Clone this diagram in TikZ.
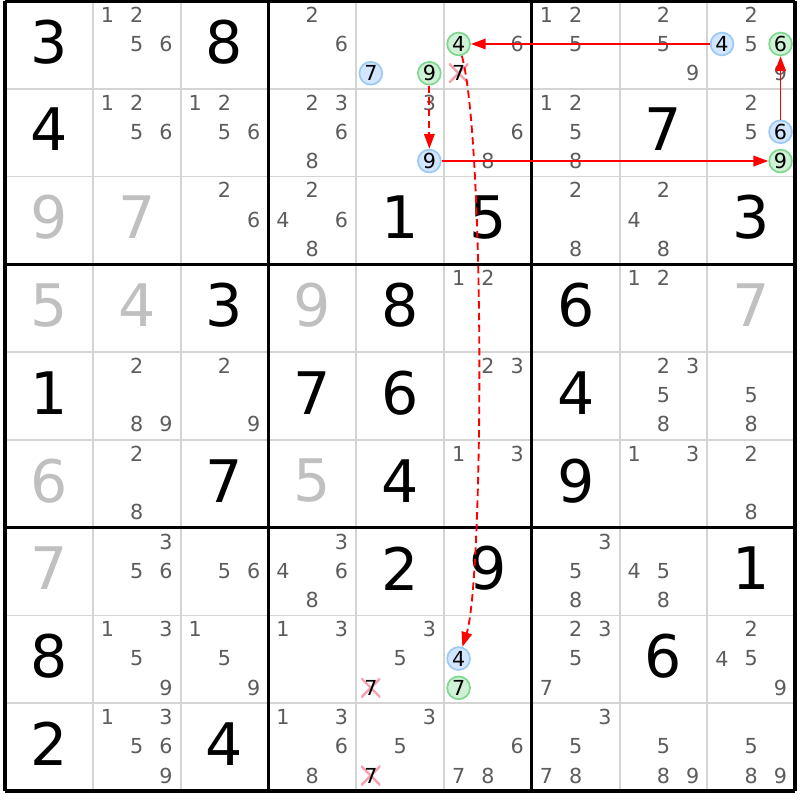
\documentclass[tikz,border=0pt]{standalone}
\usepackage{fontspec}
\setmainfont{DejaVu Sans}
\usetikzlibrary{arrows.meta}
\definecolor{cellline}{HTML}{D4D4D4}
\definecolor{givengray}{HTML}{C0C0C0}
\definecolor{candgray}{HTML}{5C5C5C}
\definecolor{ringblue}{HTML}{9CC8F5}
\definecolor{fillblue}{HTML}{D2E7FF}
\definecolor{ringgreen}{HTML}{7FD68F}
\definecolor{fillgreen}{HTML}{CFF1D5}
\definecolor{strike}{HTML}{F4A3AE}
\tikzset{
  big/.style={font=\fontsize{19}{19}\selectfont, inner sep=0pt, yshift=1pt},
  given/.style={big, text=givengray},
  solved/.style={big, text=black},
  cand/.style={font=\fontsize{6.7}{7}\selectfont, text=candgray, inner sep=0pt},
  ring/.style={cand, text=black, circle, line width=0.55pt, minimum size=0.26cm},
  onblue/.style={ring, draw=ringblue, fill=fillblue},
  ongreen/.style={ring, draw=ringgreen, fill=fillgreen},
  struck/.style={cand, text=black, minimum size=0.22cm, path picture={
      \draw[strike, line width=0.8pt] (path picture bounding box.south west) -- (path picture bounding box.north east)
        (path picture bounding box.north west) -- (path picture bounding box.south east);}},
  link/.style={red, line width=0.6pt, -{Triangle[length=4.8pt,width=3.4pt]}},
  weaklink/.style={link, dash pattern=on 2.4pt off 1.4pt}
}
% #1 style, #2 row, #3 column, #4 digit
\newcommand{\cand}[4][cand]{%
  \pgfmathsetmacro\candx{#3-0.5+(mod(#4-1,3)-1)/3}%
  \pgfmathsetmacro\candy{#2-0.51+(div(#4-1,3)-1)/3}%
  \node[#1] (n#2#3#4) at (\candx,\candy) {#4};}
\begin{document}
\begin{tikzpicture}[x=1cm,y=-1cm]
  \useasboundingbox (-0.057,-0.011) rectangle (9.055,9.101);
  \foreach \i in {1,2,4,5,7,8} {
    \draw[cellline, line width=0.6pt] (\i,0) -- (\i,9);
    \draw[cellline, line width=0.6pt] (0,\i) -- (9,\i);}
  \foreach \i in {0,3,6,9} {
    \draw[line width=1.1pt] (\i,0) -- (\i,9);
    \draw[line width=1.1pt] (0,\i) -- (9,\i);}
  \foreach \r/\c/\d in {1/1/3,1/3/8,2/1/4,2/8/7,3/5/1,3/6/5,3/9/3,4/3/3,4/5/8,4/7/6,5/1/1,5/4/7,5/5/6,5/7/4,
      6/3/7,6/5/4,6/7/9,7/5/2,7/6/9,7/9/1,8/1/8,8/8/6,9/1/2,9/3/4}
    \node[solved] (g\r\c) at (\c-0.5,\r-0.5) {\d};
  \foreach \r/\c/\d in {3/1/9,3/2/7,4/1/5,4/2/4,4/4/9,4/9/7,6/1/6,6/4/5,7/1/7}
    \node[given] (g\r\c) at (\c-0.5,\r-0.5) {\d};
  \foreach \r/\c/\ds in {1/2/{1,2,5,6},1/4/{2,6},1/6/{6},1/7/{1,2,5},1/8/{2,5,9},1/9/{2,5,9},
      2/2/{1,2,5,6},2/3/{1,2,5,6},2/4/{2,3,6,8},2/5/{3},2/6/{6,8},2/7/{1,2,5,8},2/9/{2,5},
      3/3/{2,6},3/4/{2,4,6,8},3/7/{2,8},3/8/{2,4,8},4/6/{1,2},4/8/{1,2},
      5/2/{2,8,9},5/3/{2,9},5/6/{2,3},5/8/{2,3,5,8},5/9/{5,8},6/2/{2,8},6/6/{1,3},6/8/{1,3},6/9/{2,8},
      7/2/{3,5,6},7/3/{5,6},7/4/{3,4,6,8},7/7/{3,5,8},7/8/{4,5,8},
      8/2/{1,3,5,9},8/3/{1,5,9},8/4/{1,3},8/5/{3,5},8/7/{2,3,5,7},8/9/{2,4,5,9},
      9/2/{1,3,5,6,9},9/4/{1,3,6,8},9/5/{3,5},9/6/{6,7,8},9/7/{3,5,7,8},9/8/{5,8,9},9/9/{5,8,9}}
    \foreach \d in \ds {\cand{\r}{\c}{\d}}
  \foreach \r/\c/\d in {1/6/7,8/5/7,9/5/7} {\cand[struck]{\r}{\c}{\d}}
  \foreach \r/\c/\d/\s in {1/5/7/onblue,1/5/9/ongreen,1/6/4/ongreen,1/9/4/onblue,1/9/6/ongreen,
      2/5/9/onblue,2/9/6/onblue,2/9/9/ongreen,8/6/4/onblue,8/6/7/ongreen} {\cand[\s]{\r}{\c}{\d}}
  \draw[link] (n194) -- (n164);
  \draw[weaklink] (n164) .. controls (5.47,1.6) and (5.45,6.6) .. (n864);
  \draw[weaklink] (n159) -- (n259);
  \draw[link] (n259) -- (n299);
  \draw[link] (n296) -- (n196);
\end{tikzpicture}
\end{document}
